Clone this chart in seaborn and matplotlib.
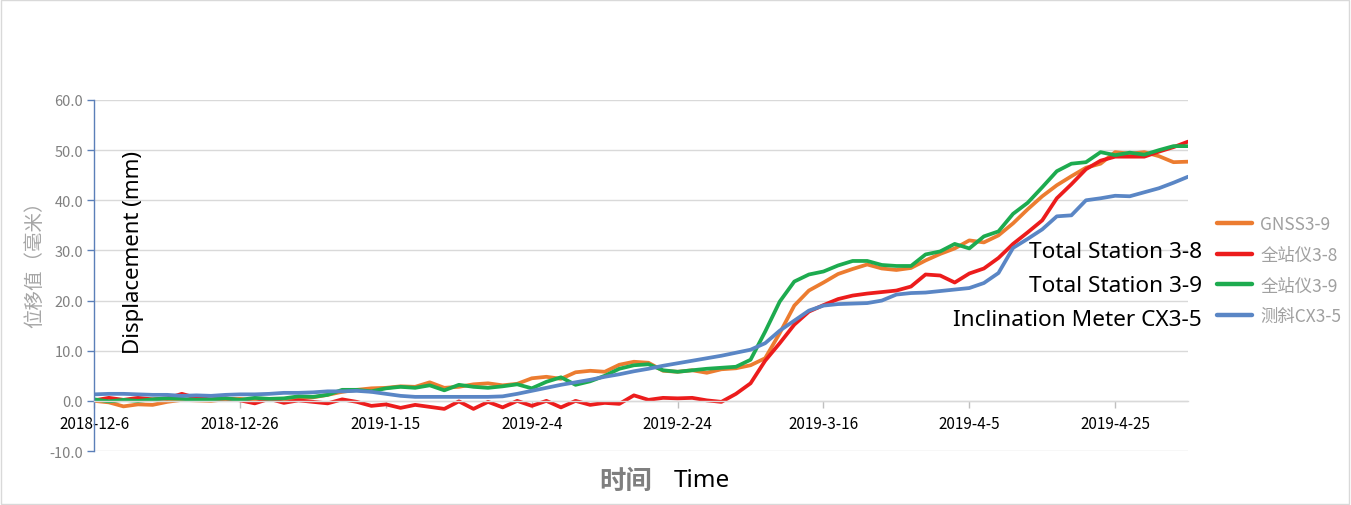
import numpy as np
import pandas as pd
import matplotlib
matplotlib.use("Agg")
import matplotlib.pyplot as plt
from matplotlib.patches import Rectangle
import seaborn as sns

# ---- data (every 2 days from 2018-12-06) ----
start_date = "2018-12-06"
n_points = 76
series_names = ["GNSS3-9", "全站仪3-8", "全站仪3-9", "测斜CX3-5"]

gnss_3_9 = [0.0, -0.3, -1.1, -0.7, -0.8, -0.2, 0.2, 0.1, 0.0, 0.3,
            0.4, 0.1, 0.2, 0.3, 0.6, 0.7, 1.2, 1.8, 2.2, 2.5,
            2.6, 2.9, 2.8, 3.7, 2.6, 2.8, 3.3, 3.5, 3.1, 3.4,
            4.5, 4.8, 4.4, 5.7, 6.0, 5.8, 7.2, 7.8, 7.6, 6.0,
            5.8, 6.1, 5.6, 6.3, 6.5, 7.1, 8.5, 13.5, 19.0, 22.0,
            23.6, 25.3, 26.3, 27.2, 26.4, 26.1, 26.5, 28.0, 29.3, 30.4,
            32.0, 31.6, 33.0, 35.4, 38.2, 40.8, 43.0, 44.8, 46.5, 47.3,
            49.6, 49.3, 49.6, 48.8, 47.6, 47.7]

ts_3_8 = [0.1, 0.6, 0.2, 0.6, 0.3, 0.5, 1.4, 0.6, 0.3, 0.5,
          0.1, -0.5, 0.4, -0.4, 0.1, -0.2, -0.5, 0.3, -0.2, -1.0,
          -0.7, -1.4, -0.8, -1.2, -1.6, -0.1, -1.6, -0.2, -1.3, 0.0,
          -1.0, 0.0, -1.3, 0.0, -0.8, -0.4, -0.6, 1.1, 0.2, 0.6,
          0.5, 0.6, 0.1, -0.2, 1.4, 3.5, 8.0, 11.5, 15.2, 17.8,
          19.1, 20.3, 21.0, 21.4, 21.7, 22.0, 22.8, 25.2, 25.0, 23.6,
          25.4, 26.4, 28.5, 31.3, 33.6, 36.0, 40.4, 43.2, 46.2, 47.9,
          48.7, 48.7, 48.7, 49.7, 50.6, 51.7]

ts_3_9 = [0.3, -0.1, 0.2, 0.0, 0.3, 0.5, 0.4, 0.2, 0.3, 0.5,
          0.2, 0.6, 0.4, 0.5, 0.9, 0.8, 1.2, 2.2, 2.2, 1.9,
          2.5, 2.8, 2.6, 3.1, 2.1, 3.2, 2.8, 2.6, 2.9, 3.3,
          2.5, 3.8, 4.7, 3.2, 3.9, 5.0, 6.4, 7.1, 7.3, 6.1,
          5.8, 6.1, 6.4, 6.6, 6.8, 8.2, 13.8, 19.8, 23.8, 25.2,
          25.8, 27.0, 27.9, 27.9, 27.1, 26.9, 26.9, 29.2, 29.8, 31.3,
          30.4, 32.8, 33.8, 37.3, 39.5, 42.6, 45.8, 47.3, 47.6, 49.6,
          49.0, 49.5, 49.1, 50.0, 50.8, 50.8]

cx_3_5 = [1.3, 1.4, 1.4, 1.3, 1.2, 1.2, 1.0, 1.1, 1.0, 1.2,
          1.3, 1.3, 1.4, 1.6, 1.6, 1.7, 1.9, 1.9, 2.0, 1.8,
          1.4, 1.0, 0.8, 0.8, 0.8, 0.8, 0.8, 0.8, 0.9, 1.4,
          2.0, 2.6, 3.2, 3.7, 4.2, 4.8, 5.3, 5.9, 6.4, 7.0,
          7.5, 8.0, 8.5, 9.0, 9.6, 10.2, 11.5, 14.0, 16.0, 18.0,
          19.0, 19.3, 19.4, 19.5, 20.0, 21.2, 21.5, 21.6, 21.9, 22.2,
          22.5, 23.5, 25.5, 30.5, 32.3, 34.2, 36.8, 37.0, 40.0, 40.4,
          40.9, 40.8, 41.6, 42.4, 43.5, 44.7]

tick_dates = ["2018-12-06", "2018-12-26", "2019-01-15", "2019-02-04",
              "2019-02-24", "2019-03-16", "2019-04-05", "2019-04-25"]
y_ticks = [-10, 0, 10, 20, 30, 40, 50, 60]
annotations = ["Total Station 3-8", "Total Station 3-9", "Inclination Meter CX3-5"]

# ---- build long-form frame ----
dates = pd.date_range(start_date, periods=n_points, freq="2D")
frames = []
for name, vals in zip(series_names, [gnss_3_9, ts_3_8, ts_3_9, cx_3_5]):
    frames.append(pd.DataFrame({"date": dates, "value": vals, "series": name}))
df = pd.concat(frames, ignore_index=True)

sns.set_theme(style="white")
plt.rcParams["font.family"] = ["Noto Sans CJK SC", "DejaVu Sans"]

palette = {"GNSS3-9": "#EC7C30", "全站仪3-8": "#EC1C1C",
           "全站仪3-9": "#1DAB4F", "测斜CX3-5": "#5A86C5"}

fig = plt.figure(figsize=(13.51, 5.06), dpi=100)
ax = fig.add_axes([0.0698, 0.1067, 0.8096, 0.6937])

sns.lineplot(data=df, x="date", y="value", hue="series", hue_order=series_names,
             palette=palette, linewidth=2.7, ax=ax, sort=False, legend=True)

ax.set_ylim(-10, 60)
ax.set_xlim(pd.Timestamp(start_date), pd.Timestamp("2019-05-05"))
ax.set_yticks(y_ticks)
ax.yaxis.set_major_formatter(matplotlib.ticker.FormatStrFormatter("%.1f"))
tdates = pd.to_datetime(tick_dates)
ax.set_xticks(tdates)
ax.set_xticklabels([f"{d.year}-{d.month}-{d.day}" for d in tdates])

ax.grid(axis="y", color="#D9D9D9", linewidth=1)
ax.grid(axis="x", visible=False)
ax.set_axisbelow(True)

for s in ["top", "right"]:
    ax.spines[s].set_visible(False)
ax.spines["bottom"].set_position(("data", 0))
ax.spines["bottom"].set_color("#D9D9D9")
ax.spines["bottom"].set_linewidth(1)
ax.spines["left"].set_color("#5B7FB8")
ax.spines["left"].set_linewidth(1)

ax.tick_params(axis="y", colors="#5B7FB8", labelcolor="#808080", labelsize=10.5,
               length=5, width=1, direction="out", pad=3, left=True)
ax.tick_params(axis="x", colors="#BFBFBF", labelcolor="#000000", labelsize=11,
               length=5, width=1, direction="out", pad=5, bottom=True)

ax.set_xlabel("")
ax.set_ylabel("")

# legend
handles, labels = ax.get_legend_handles_labels()
leg = ax.legend(handles, labels, loc="center left", bbox_to_anchor=(1.012, 0.515),
                frameon=False, fontsize=12.5, handlelength=2.0, labelspacing=0.72,
                handletextpad=0.5)
for t in leg.get_texts():
    t.set_color("#A0A0A0")
for l in leg.get_lines():
    l.set_linewidth(3.2)

# axis titles
fig.text(0.026, 0.486, "位移值（毫米）", rotation=90, ha="center", va="center",
         color="#A6A6A6", fontsize=14)
fig.text(0.0985, 0.50, "Displacement (mm)", rotation=90, ha="center", va="center",
         color="black", fontsize=16, family=["Noto Sans", "DejaVu Sans"])
fig.text(626 / 1351, 1 - 481 / 506, "时间", ha="center", va="center", color="#7F7F7F",
         fontsize=19, fontweight="bold")
fig.text(702 / 1351, 1 - 481 / 506, "Time", ha="center", va="center", color="black",
         fontsize=17.5, family=["Noto Sans", "DejaVu Sans"])

# right-side English annotations
for txt, yy in zip(annotations, [253, 287, 321]):
    fig.text(1202 / 1351, 1 - yy / 506, txt, ha="right", va="center",
             color="black", fontsize=16.3, family=["Noto Sans", "DejaVu Sans"])

fig.patches.append(Rectangle((0.0008, 0.001), 0.9975, 0.997, transform=fig.transFigure,
                             fill=False, edgecolor="#D9D9D9", linewidth=1))

fig.savefig("out.png", dpi=100)
